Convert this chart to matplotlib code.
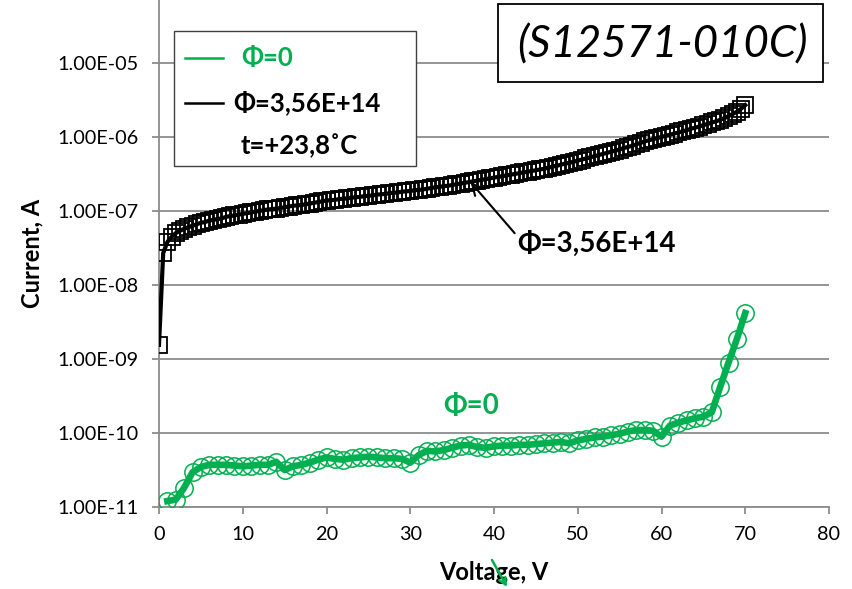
import numpy as np
import matplotlib
matplotlib.use('Agg')
import matplotlib.pyplot as plt
from matplotlib.patches import Rectangle
from matplotlib.lines import Line2D

plt.rcParams['font.family'] = ['Lato', 'DejaVu Sans']

# irradiated sample, Phi=3,56E+14, measured every 0.5 V (log10 of current, A)
black_voltage = np.arange(0, 70.5, 0.5)
black_log10 = [
    -8.81, -7.57, -7.42, -7.35, -7.30, -7.27, -7.24, -7.22, -7.20, -7.18,
    -7.16, -7.15, -7.13, -7.12, -7.11, -7.10, -7.08, -7.07, -7.06, -7.05,
    -7.04, -7.03, -7.02, -7.01, -7.00, -6.99, -6.98, -6.975, -6.97, -6.96,
    -6.95, -6.94, -6.93, -6.925, -6.92, -6.91, -6.90, -6.89, -6.88, -6.87,
    -6.86, -6.855, -6.85, -6.84, -6.835, -6.83, -6.82, -6.815, -6.81, -6.80,
    -6.795, -6.79, -6.78, -6.775, -6.77, -6.76, -6.755, -6.75, -6.74, -6.735,
    -6.73, -6.72, -6.715, -6.71, -6.70, -6.69, -6.68, -6.675, -6.665, -6.66,
    -6.65, -6.64, -6.63, -6.62, -6.61, -6.60, -6.59, -6.58, -6.57, -6.56,
    -6.55, -6.54, -6.53, -6.52, -6.51, -6.50, -6.49, -6.48, -6.47, -6.46,
    -6.45, -6.44, -6.43, -6.415, -6.40, -6.39, -6.375, -6.36, -6.35, -6.335,
    -6.32, -6.305, -6.29, -6.275, -6.26, -6.245, -6.23, -6.215, -6.20, -6.185,
    -6.17, -6.15, -6.135, -6.12, -6.10, -6.08, -6.06, -6.045, -6.03, -6.015,
    -6.00, -5.985, -5.97, -5.955, -5.94, -5.925, -5.91, -5.89, -5.875, -5.86,
    -5.84, -5.825, -5.805, -5.79, -5.77, -5.745, -5.72, -5.69, -5.66, -5.62,
    -5.57,
]

# non-irradiated sample, Phi=0, measured every 1 V
green_voltage = np.arange(1, 71, 1)
green_log10 = [
    -10.92, -10.90, -10.74, -10.53, -10.46, -10.43, -10.43, -10.43, -10.44, -10.45,
    -10.44, -10.43, -10.43, -10.39, -10.50, -10.45, -10.43, -10.40, -10.36, -10.33,
    -10.35, -10.36, -10.34, -10.33, -10.32, -10.33, -10.34, -10.34, -10.35, -10.40,
    -10.30, -10.24, -10.25, -10.23, -10.20, -10.17, -10.16, -10.19, -10.20, -10.18,
    -10.17, -10.17, -10.16, -10.16, -10.15, -10.14, -10.13, -10.12, -10.14, -10.10,
    -10.08, -10.06, -10.05, -10.03, -10.01, -9.98, -9.96, -9.96, -9.97, -10.05,
    -9.90, -9.86, -9.83, -9.80, -9.78, -9.72, -9.38, -9.05, -8.73, -8.38,
]

black_current = 10 ** np.array(black_log10)
green_current = 10 ** np.array(green_log10)

y_ticks = [1e-11, 1e-10, 1e-9, 1e-8, 1e-7, 1e-6, 1e-5]
y_tick_labels = ['1.00E-11', '1.00E-10', '1.00E-09', '1.00E-08',
                 '1.00E-07', '1.00E-06', '1.00E-05']
x_ticks = [0, 10, 20, 30, 40, 50, 60, 70, 80]

GREEN = '#00b050'
GRAY = '#8c8c8c'
W, H = 852, 589


def fig_xy(px, py):
    return px / W, 1 - py / H


fig = plt.figure(figsize=(8.52, 5.89), dpi=100)
ax = fig.add_axes([159 / W, 1 - 507 / H, 670 / W, 507 / H])

ax.plot(black_voltage, black_current, color='black', lw=3.0,
        marker='s', ms=11, mfc='none', mec='black', mew=1.3, zorder=3)
ax.plot(green_voltage, green_current, color=GREEN, lw=4.8,
        marker='o', ms=12.5, mfc='none', mec=GREEN, mew=1.1, zorder=3)

ax.set_yscale('log')
ax.set_xlim(0, 80)
ax.set_ylim(1e-11, 10 ** -4.15)
ax.set_yticks(y_ticks)
ax.set_yticklabels(y_tick_labels)
ax.yaxis.set_minor_locator(matplotlib.ticker.NullLocator())
ax.set_xticks(x_ticks)
ax.grid(axis='y', color=GRAY, lw=1.3)
ax.set_axisbelow(True)
for s in ['top', 'right']:
    ax.spines[s].set_visible(False)
for s in ['left', 'bottom']:
    ax.spines[s].set_color(GRAY)
    ax.spines[s].set_linewidth(1.3)
ax.tick_params(axis='both', colors=GRAY, labelcolor='black', labelsize=14.3,
               length=5, width=1.3, direction='out')
ax.tick_params(axis='y', pad=9.5)
ax.tick_params(axis='x', pad=9)

ax.set_xlabel('Voltage, V', fontsize=17, fontweight='bold', labelpad=12.5)
ax.set_ylabel('Current, A', fontsize=17, fontweight='bold', labelpad=10)

# curve labels
ax.text(33.9, 10 ** -9.64, 'Φ=0', color=GREEN, fontsize=20,
        fontweight='bold', ha='left', va='center')
ax.annotate('Φ=3,56E+14', xy=(37.2, 10 ** -6.61), xytext=(42.8, 10 ** -7.45),
            fontsize=20, fontweight='bold', ha='left', va='center',
            arrowprops=dict(arrowstyle='->', color='black', lw=1.5,
                            shrinkA=0, shrinkB=0, relpos=(0, 0.8)))

# legend box
x0, y0 = fig_xy(174, 166)
x1, y1 = fig_xy(416, 31)
fig.add_artist(Rectangle((x0, y0), x1 - x0, y1 - y0, transform=fig.transFigure,
                         facecolor='white', edgecolor='#404040', lw=1.0, zorder=5))
for py, col in [(58, GREEN), (103, 'black')]:
    xa, ya = fig_xy(185, py)
    xb, _ = fig_xy(223, py)
    fig.add_artist(Line2D([xa, xb], [ya, ya], color=col, lw=1.8,
                          transform=fig.transFigure, zorder=6))
for px, py, txt, col in [(241, 58, 'Φ=0', GREEN),
                         (233, 103, 'Φ=3,56E+14', 'black'),
                         (241, 146, 't=+23,8˚C', 'black')]:
    tx, ty = fig_xy(px, py)
    fig.text(tx, ty, txt, color=col, fontsize=18.5, fontweight='bold',
             ha='left', va='center', zorder=7)

# device name box
x0, y0 = fig_xy(498, 82)
x1, y1 = fig_xy(823, 4)
fig.add_artist(Rectangle((x0, y0), x1 - x0, y1 - y0, transform=fig.transFigure,
                         facecolor='white', edgecolor='black', lw=1.3, zorder=5))
tx, ty = fig_xy(662, 45)
fig.text(tx, ty, '(S12571-010C)', fontsize=31.5, fontstyle='italic',
         ha='center', va='center', zorder=7)

# stray green arrow over the x label
ax_s, ay_s = fig_xy(492, 560)
ax_e, ay_e = fig_xy(507, 587)
fig.add_artist(matplotlib.patches.FancyArrowPatch(
    (ax_s, ay_s), (ax_e, ay_e), transform=fig.transFigure,
    arrowstyle='->', color=GREEN, lw=1.8, mutation_scale=12,
    shrinkA=0, shrinkB=0, zorder=8))

fig.savefig('out.png', dpi=100)
